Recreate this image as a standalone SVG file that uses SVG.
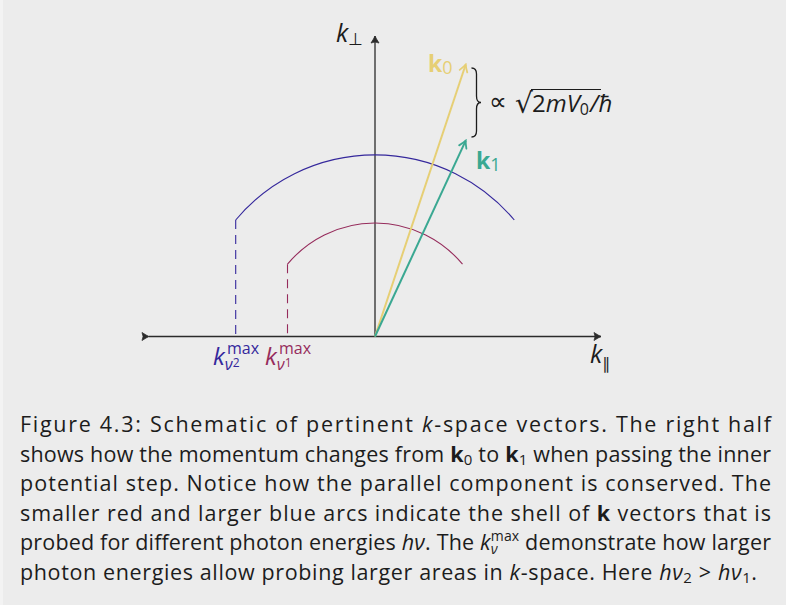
<svg xmlns="http://www.w3.org/2000/svg" width="786" height="605" viewBox="0 0 786 605">
<defs>
<style>
.t{font-family:"Open Sans","DejaVu Sans",sans-serif;fill:#1c1c1c}
.cap{font-size:21.5px}
.it{font-style:italic}
.bf{font-weight:bold}
.sym{font-family:"DejaVu Sans",sans-serif;font-style:normal}
.ax{stroke:#2b2b2b;stroke-width:1.3;fill:none}
.dash{stroke-width:1.1;stroke-dasharray:9 6;fill:none}
</style>
<marker id="ah" viewBox="-10 -6 12 12" markerWidth="12" markerHeight="12" refX="0" refY="0" orient="auto" markerUnits="userSpaceOnUse">
<path d="M-7,-4 Q-2.5,-1 0,0 Q-2.5,1 -7,4 Q-5,0 -7,-4 Z" fill="#2b2b2b" stroke="#2b2b2b" stroke-width="0.8" stroke-linejoin="round"/>
</marker>
<marker id="ahy" viewBox="-10 -6 12 12" markerWidth="12" markerHeight="12" refX="0" refY="0" orient="auto" markerUnits="userSpaceOnUse">
<path d="M-7,-4 Q-2.5,-1 0,0 Q-2.5,1 -7,4" fill="none" stroke="#e6cf75" stroke-width="1.8" stroke-linecap="round"/>
</marker>
<marker id="aht" viewBox="-10 -6 12 12" markerWidth="12" markerHeight="12" refX="0" refY="0" orient="auto" markerUnits="userSpaceOnUse">
<path d="M-7,-4 Q-2.5,-1 0,0 Q-2.5,1 -7,4" fill="none" stroke="#3aa892" stroke-width="1.8" stroke-linecap="round"/>
</marker>
</defs>
<rect x="0" y="0" width="786" height="605" fill="#ececec"/>
<rect x="0" y="0" width="3" height="605" fill="#f3f3f3"/>

<g id="axes">
<line class="ax" x1="149" y1="336.5" x2="601" y2="336.5" marker-start="url(#ah)" marker-end="url(#ah)"/>
<line class="ax" x1="375" y1="336.5" x2="375" y2="36" marker-end="url(#ah)"/>
</g>

<g id="arcs">
<path id="arc-blue" d="M235.7,220 A181.5,181.5 0 0 1 514.3,220" fill="none" stroke="#35289c" stroke-width="1.1"/>
<path id="arc-red" d="M287.5,264.2 A113.5,113.5 0 0 1 462.5,264.2" fill="none" stroke="#962c5c" stroke-width="1.1"/>
<line class="dash" x1="235.7" y1="220" x2="235.7" y2="336" stroke="#35289c"/>
<line class="dash" x1="287.5" y1="264.2" x2="287.5" y2="336" stroke="#962c5c"/>
</g>

<g id="connectors">
<line id="k0" x1="375" y1="336.5" x2="465.7" y2="64.5" stroke="#e6cf75" stroke-width="2" marker-end="url(#ahy)"/>
<line id="k1" x1="375" y1="336.5" x2="465.7" y2="140.7" stroke="#3aa892" stroke-width="2" marker-end="url(#aht)"/>
</g>

<g id="brace">
<path d="M471.5,68 Q476.5,68 476.5,74 L476.5,96 Q476.5,102.5 481,102.5 Q476.5,102.5 476.5,109 L476.5,131 Q476.5,137 471.5,137" fill="none" stroke="#1c1c1c" stroke-width="1.3"/>
</g>

<g id="labels">
<text class="t it" x="336" y="42" font-size="25">k<tspan class="sym" font-size="17" dy="3">⊥</tspan></text>
<text class="t bf" x="428" y="72" font-size="23" style="fill:#e6cf75">k<tspan font-weight="normal" font-size="18" dy="2">0</tspan></text>
<text class="t bf" x="476" y="169" font-size="23" style="fill:#3aa892">k<tspan font-weight="normal" font-size="18" dy="2">1</tspan></text>
<text class="t sym" x="489" y="110" font-size="25">∝</text>
<text class="t sym" x="515" y="113" font-size="28">√</text>
<line x1="531" y1="89.5" x2="601" y2="89.5" stroke="#1c1c1c" stroke-width="1.2"/>
<text class="t" x="532" y="111.5" font-size="24">2<tspan font-style="italic">mV</tspan><tspan font-size="16" dy="3">0</tspan><tspan dy="-3" font-style="italic" dx="1">/ħ</tspan></text>
<text class="t it" x="590" y="363" font-size="25">k<tspan class="sym" font-size="16" dy="6">∥</tspan></text>
<text class="t it" x="213" y="365" font-size="24" style="fill:#35289c">k<tspan font-size="16" dy="5">ν</tspan><tspan font-style="normal" font-size="12" dy="-3">2</tspan></text>
<text class="t" x="227" y="354" font-size="16" style="fill:#35289c">max</text>
<text class="t it" x="265" y="365" font-size="24" style="fill:#962c5c">k<tspan font-size="16" dy="5">ν</tspan><tspan font-style="normal" font-size="12" dy="-3">1</tspan></text>
<text class="t" x="279" y="354" font-size="16" style="fill:#962c5c">max</text>
</g>

<g id="caption">
<text class="t cap" x="20" y="432" textLength="751" lengthAdjust="spacing">Figure 4.3:  Schematic of pertinent <tspan class="it">k</tspan>-space vectors.  The right half</text>
<text class="t cap" x="20" y="461.5" textLength="751" lengthAdjust="spacing">shows how the momentum changes from <tspan class="bf">k</tspan><tspan font-size="15" dy="3">0</tspan><tspan dy="-3"> to </tspan><tspan class="bf">k</tspan><tspan font-size="15" dy="3">1</tspan><tspan dy="-3"> when passing the inner</tspan></text>
<text class="t cap" x="20" y="491" textLength="751" lengthAdjust="spacing">potential step.  Notice how the parallel component is conserved.  The</text>
<text class="t cap" x="20" y="520.5" textLength="751" lengthAdjust="spacing">smaller red and larger blue arcs indicate the shell of <tspan class="bf">k</tspan> vectors that is</text>
<text class="t cap" x="20" y="550" textLength="751" lengthAdjust="spacing">probed for different photon energies <tspan class="it">hν</tspan>. The <tspan class="it">k</tspan><tspan class="it" font-size="14" dy="4">ν</tspan><tspan font-size="14" dx="-7" dy="-13">max</tspan><tspan dy="9"> demonstrate how larger</tspan></text>
<text class="t cap" x="20" y="579.5" textLength="737" lengthAdjust="spacing">photon energies allow probing larger areas in <tspan class="it">k</tspan>-space. Here <tspan class="it">hν</tspan><tspan font-size="15" dy="3">2</tspan><tspan dy="-3"> &gt; </tspan><tspan class="it">hν</tspan><tspan font-size="15" dy="3">1</tspan><tspan dy="-3">.</tspan></text>
</g>
</svg>
